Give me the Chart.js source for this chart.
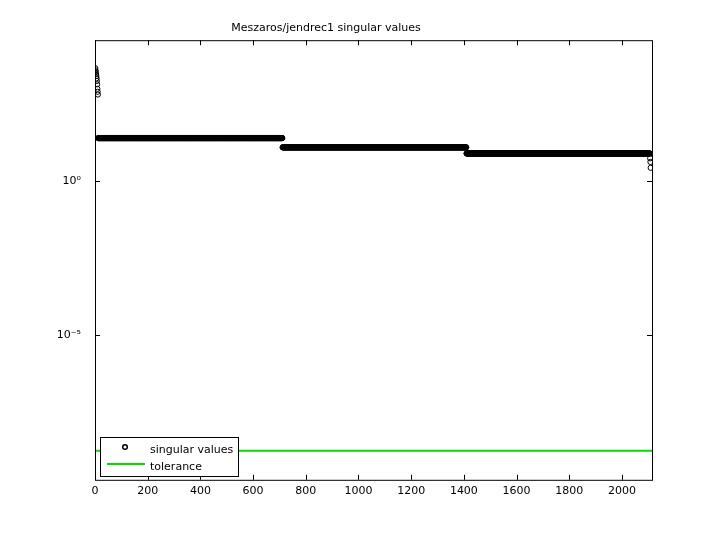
<!DOCTYPE html>
<html><head><meta charset="utf-8">
<script src="https://cdn.jsdelivr.net/npm/chart.js@4"></script>
<style>html,body{margin:0;background:#fff}</style>
</head><body><canvas id="c" width="720" height="540"></canvas>
<script>
// leading singular values
const headValues = [4700, 4000, 3500, 3000, 2600, 2200, 1800, 1400, 1000, 800, 650];
// plateaus as [value, count]
const plateauRuns = [[25, 700], [12.5, 698], [7.9, 697]];
// trailing values
const tailValues = [5.5, 4.2, 2.7];
const tolerance = 1.7e-9;
const xTicks = [0,200,400,600,800,1000,1200,1400,1600,1800,2000];
const yTicks = [1e-5, 1];

const sv = [];
headValues.forEach(v => sv.push(v));
plateauRuns.forEach(([v, c]) => { for (let i = 0; i < c; i++) sv.push(v); });
tailValues.forEach(v => sv.push(v));
const pts = sv.map((v, i) => ({x: i + 1, y: v}));

const frame = {
  id: 'frame',
  afterDraw(ch) {
    const {ctx, chartArea: a, scales} = ch;
    ctx.save();
    ctx.strokeStyle = '#000'; ctx.lineWidth = 1;
    ctx.strokeRect(a.left + .5, a.top + .5, a.right - a.left, a.bottom - a.top);
    ctx.beginPath();
    xTicks.forEach(t => { const x = Math.round(scales.x.getPixelForValue(t)) + .5;
      ctx.moveTo(x, a.bottom); ctx.lineTo(x, a.bottom - 5); ctx.moveTo(x, a.top); ctx.lineTo(x, a.top + 5); });
    yTicks.forEach(t => { const y = Math.round(scales.y.getPixelForValue(t)) + .5;
      ctx.moveTo(a.left, y); ctx.lineTo(a.left + 5, y); ctx.moveTo(a.right, y); ctx.lineTo(a.right - 5, y); });
    ctx.stroke();
    const lx = 100, ly = 437, lw = 138, lh = 39;
    ctx.fillStyle = '#fff'; ctx.fillRect(lx, ly, lw, lh);
    ctx.strokeRect(lx + .5, ly + .5, lw, lh);
    ctx.lineWidth = 1.5;
    ctx.beginPath(); ctx.arc(125, 447, 2.3, 0, Math.PI * 2); ctx.stroke();
    ctx.strokeStyle = '#00dd00'; ctx.lineWidth = 2;
    ctx.beginPath(); ctx.moveTo(107, 464); ctx.lineTo(145, 464); ctx.stroke();
    ctx.fillStyle = '#000'; ctx.font = '11px "DejaVu Sans"'; ctx.textBaseline = 'middle';
    ctx.fillText('singular values', 150, 450);
    ctx.fillText('tolerance', 150, 467);
    ctx.restore();
  }
};

new Chart(document.getElementById('c'), {
  type: 'scatter',
  data: { datasets: [
    { label: 'singular values', data: pts, showLine: false, pointRadius: 2.6, pointBorderWidth: 1,
      pointBorderColor: '#000', pointBackgroundColor: 'rgba(255,255,255,0)' },
    { label: 'tolerance', data: [{x: 0, y: tolerance}, {x: 2114, y: tolerance}], showLine: true,
      borderColor: '#00dd00', borderWidth: 2, pointRadius: 0 }
  ]},
  options: {
    responsive: false, animation: false, devicePixelRatio: 1,
    layout: { padding: { left: 0, right: 68, top: 0, bottom: 37 } },
    plugins: { legend: { display: false }, tooltip: { enabled: false },
      title: { display: true, text: 'Meszaros/jendrec1 singular values', color: '#000',
        font: { family: 'DejaVu Sans', size: 11, weight: 'normal' }, padding: { top: 22, bottom: 5 } } },
    scales: {
      x: { type: 'linear', min: 0, max: 2114,
        afterBuildTicks: s => { s.ticks = xTicks.map(v => ({value: v})); },
        grid: { display: false, drawTicks: false }, border: { display: false },
        ticks: { color: '#000', font: { family: 'DejaVu Sans', size: 11 }, padding: 5, maxRotation: 0,
          callback: v => String(v) } },
      y: { type: 'logarithmic', min: Math.pow(10, -9.71), max: Math.pow(10, 4.58),
        afterBuildTicks: s => { s.ticks = yTicks.map(v => ({value: v})); },
        afterFit: s => { s.width = 95; },
        grid: { display: false, drawTicks: false }, border: { display: false },
        ticks: { color: '#000', font: { family: 'DejaVu Sans', size: 11 }, padding: 14,
          callback: v => v === 1 ? '10⁰' : '10⁻⁵' } }
    }
  },
  plugins: [frame]
});
</script></body></html>
